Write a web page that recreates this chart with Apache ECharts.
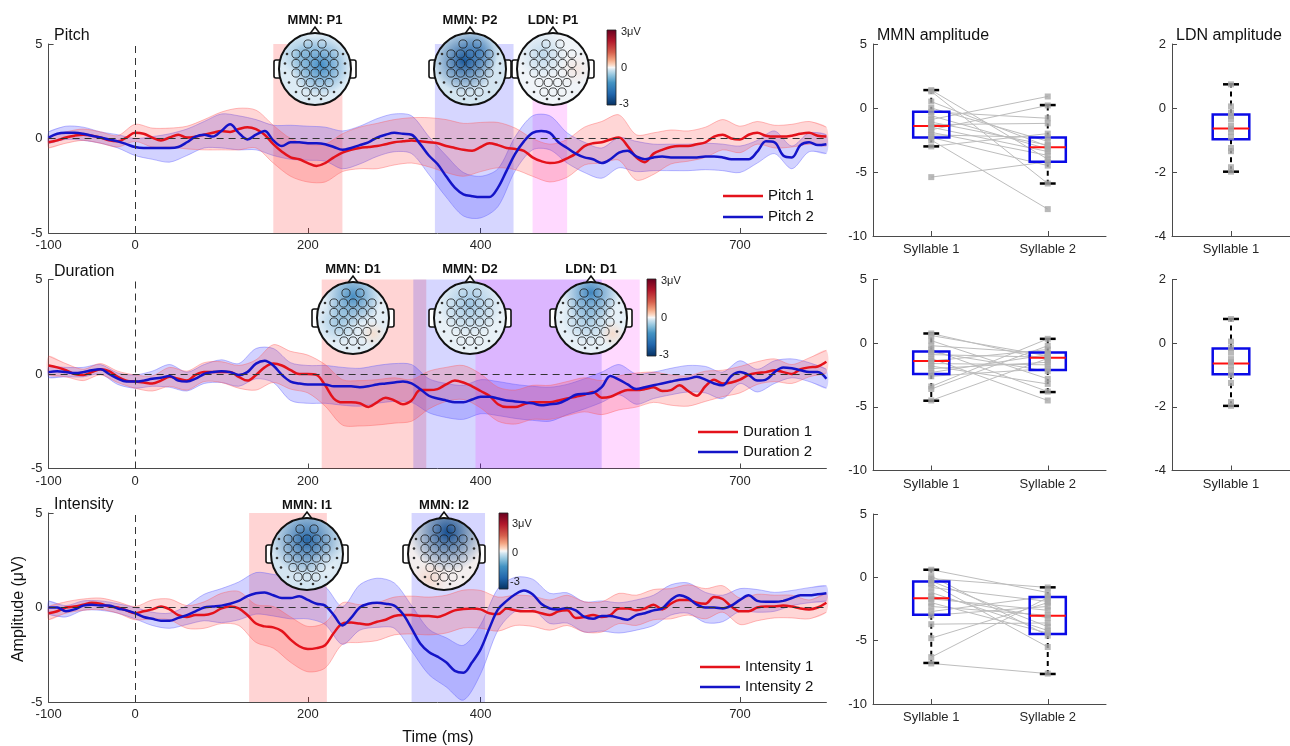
<!DOCTYPE html>
<html><head><meta charset="utf-8">
<script src="https://cdn.jsdelivr.net/npm/echarts@6/dist/echarts.min.js"></script>
<style>html,body{margin:0;padding:0;background:#fff}#c{width:1290px;height:746px}</style>
</head><body><div id="c"></div>
<script>
// ---------------- DATA ----------------
// ERP waveforms sampled every 10 ms from -100 to 800 ms
const T_START = -100, T_STEP = 10, BAND_STEP = 20, T_END = 800;
const xTickValues = [-100, 0, 200, 400, 700];

const pitch1 = [-0.2,-0.1,0.05,0.15,0.2,0.15,0.05,-0.1,-0.15,0.05,
0.3,0.25,0.05,-0.1,0.05,0.2,0.05,0.1,0.2,0.3,
0.4,0.35,0.5,0.6,0.5,0.2,-0.3,-0.7,-1.0,-1.1,
-1.3,-1.45,-1.3,-1.0,-0.75,-0.6,-0.5,-0.45,-0.4,-0.3,
-0.2,-0.15,-0.1,-0.15,-0.2,-0.25,-0.4,-0.5,-0.6,-0.65,
-0.45,-0.25,-0.35,-0.5,-0.55,-0.65,-1.0,-1.2,-1.3,-1.25,
-1.05,-0.8,-0.4,-0.25,-0.2,-0.05,0.05,-0.4,-1.0,-1.25,
-0.8,-0.6,-0.45,-0.4,-0.4,-0.3,-0.2,0.1,0.2,0.0,
-0.05,0.2,0.3,0.15,0.1,0.1,0.15,0.25,0.3,0.15,
0.1];
const pitch2 = [0.05,0.25,0.3,0.3,0.25,0.15,0.05,-0.05,-0.15,-0.3,
-0.45,-0.5,-0.5,-0.5,-0.5,-0.45,-0.2,0.1,0.2,0.1,
0.4,0.75,0.3,-0.05,0.2,0.4,-0.1,-0.4,-0.2,-0.2,
-0.25,-0.25,-0.3,-0.45,-0.6,-0.5,-0.35,-0.2,0.05,0.2,
0.3,0.25,0.2,-0.3,-0.9,-1.35,-2.0,-2.6,-2.95,-3.05,
-3.1,-3.1,-2.6,-1.7,-0.8,-0.15,0.3,0.4,0.3,-0.2,
-0.5,-0.8,-1.0,-1.1,-1.3,-1.1,-0.75,-0.65,-0.95,-1.1,
-1.0,-0.95,-1.0,-1.0,-1.0,-1.0,-0.95,-0.95,-1.0,-1.1,
-1.1,-1.1,-0.7,-0.15,-0.2,-0.9,-1.0,-0.35,-0.2,-0.35,
-0.3];
const duration1 = [0.45,0.35,0.2,0.0,-0.05,0.1,0.25,0.15,-0.15,-0.35,
-0.4,-0.45,-0.5,-0.35,-0.15,-0.25,-0.35,-0.05,0.1,0.1,
0.1,0.1,-0.15,-0.35,-0.05,0.35,0.55,0.45,0.2,0.0,
0.0,-0.05,-0.6,-1.3,-1.5,-1.5,-1.55,-1.75,-1.5,-1.25,
-1.4,-1.6,-1.4,-0.85,-0.85,-0.8,-0.55,-0.35,-0.45,-0.65,
-0.9,-1.15,-1.6,-1.75,-1.75,-1.6,-1.5,-1.5,-1.5,-1.4,
-1.3,-1.2,-1.1,-0.95,-1.25,-1.2,-1.0,-0.85,-0.85,-0.8,
-0.7,-0.9,-0.85,-0.6,-0.9,-1.15,-0.65,-0.3,-0.5,-0.45,
-0.3,-0.05,0.05,0.1,0.2,0.1,0.0,0.25,0.35,0.4,
0.65];
const duration2 = [0.1,0.15,0.1,0.05,0.1,0.2,0.25,0.0,-0.25,-0.4,
-0.4,-0.35,-0.25,-0.2,-0.1,-0.35,-0.4,-0.25,0.0,0.1,
0.15,0.1,-0.05,0.1,0.55,0.7,0.45,-0.05,-0.4,-0.5,
-0.55,-0.55,-0.55,-0.65,-0.65,-0.65,-0.7,-0.65,-0.55,-0.5,
-0.45,-0.4,-0.5,-0.8,-1.15,-1.3,-1.4,-1.5,-1.5,-1.35,
-1.2,-1.2,-1.3,-1.4,-1.45,-1.5,-1.55,-1.65,-1.6,-1.55,
-1.35,-1.1,-1.05,-1.0,-0.7,-0.1,-0.3,-0.55,-0.8,-0.7,
-0.6,-0.5,-0.4,-0.3,-0.25,-0.15,-0.3,-0.5,-0.6,-0.1,
0.1,-0.05,-0.35,-0.3,0.1,0.35,0.3,0.2,0.1,0.1,
-0.25];
const intensity1 = [-0.3,-0.2,0.0,0.05,0.15,0.25,0.2,0.05,0.0,-0.15,
-0.3,-0.2,-0.1,0.05,-0.1,-0.4,-0.5,-0.4,-0.4,-0.3,
-0.05,0.05,-0.05,-0.4,-0.85,-1.0,-1.05,-1.25,-1.7,-2.05,
-2.2,-2.15,-2.0,-1.35,-0.85,-0.8,-0.85,-0.9,-0.75,-0.65,
-0.45,-0.4,-0.4,-0.45,-0.45,-0.5,-0.35,-0.15,-0.08,-0.05,
-0.1,-0.3,-0.35,-0.05,-0.15,-0.2,-0.2,-0.3,-0.4,-0.2,
-0.15,-0.55,-0.5,-0.4,-0.5,-0.4,-0.05,-0.05,-0.15,-0.05,
0.15,-0.1,0.2,0.4,0.4,0.25,0.2,0.55,0.45,0.05,
-0.2,-0.2,0.0,0.05,0.05,0.1,0.05,-0.05,-0.1,0.0,
0.25];
const intensity2 = [0.0,0.0,-0.2,-0.1,0.1,0.15,0.1,0.1,-0.05,-0.15,
-0.3,-0.5,-0.6,-0.7,-0.7,-0.55,-0.4,-0.2,0.0,0.05,
0.1,0.2,0.35,0.6,0.75,0.8,0.65,0.5,0.5,0.6,
0.4,0.2,0.1,-0.4,-0.95,-0.55,0.0,0.2,0.25,0.2,
0.1,-0.35,-1.1,-1.9,-2.35,-2.6,-2.9,-3.35,-3.45,-2.9,
-2.2,-1.1,-0.1,0.35,0.7,0.9,0.7,0.2,-0.05,-0.1,
-0.02,-0.15,-0.5,-0.6,-0.45,-0.45,-0.55,-0.65,-0.4,-0.3,
-0.15,-0.05,0.4,0.65,0.5,0.15,0.0,0.0,-0.05,0.1,
0.4,0.65,0.35,0.3,0.3,0.35,0.5,0.65,0.65,0.7,
0.75];

// confidence band half-widths, every 20 ms from -100 to 800 ms
const pitch1Hw = [0.3,0.3,0.3,0.3,0.3,0.45,0.5,0.5,0.6,0.8,
1.0,1.1,1.0,1.0,1.0,1.0,1.0,1.0,1.1,1.2,
1.2,1.2,1.3,1.4,1.4,1.3,1.2,1.1,1.0,1.0,
1.0,1.0,1.1,1.2,1.2,1.1,0.9,0.8,0.8,0.8,
0.7,0.6,0.6,0.6,0.6,0.5];
const pitch2Hw = [0.3,0.35,0.35,0.3,0.35,0.45,0.6,0.75,0.7,0.7,
0.9,0.9,0.8,0.8,0.9,0.9,0.9,1.0,1.0,1.0,
1.0,1.0,1.0,1.1,1.15,1.1,1.0,0.9,0.9,0.9,
0.8,0.8,0.8,0.8,0.8,0.7,0.7,0.7,0.7,0.7,
0.7,0.6,0.6,0.6,0.5,0.5];
const duration1Hw = [0.5,0.35,0.3,0.3,0.3,0.35,0.4,0.5,0.5,0.5,
0.55,0.6,0.8,1.0,1.0,1.0,1.1,1.2,1.2,1.2,
1.2,1.1,1.0,0.9,0.9,0.9,0.9,0.9,0.9,0.9,
0.9,0.9,0.9,0.9,0.9,0.8,0.8,0.8,0.8,0.7,
0.7,0.6,0.6,0.5,0.5,0.6];
const duration2Hw = [0.3,0.25,0.25,0.25,0.3,0.35,0.4,0.6,0.5,0.5,
0.6,0.6,0.8,0.9,1.0,1.0,1.0,1.0,1.0,1.0,
1.0,1.0,0.9,0.9,0.9,0.9,0.9,0.9,0.9,0.9,
0.8,0.8,0.8,0.8,0.8,0.7,0.7,0.7,0.7,0.7,
0.6,0.6,0.6,0.5,0.5,0.5];
const intensity1Hw = [0.35,0.3,0.3,0.3,0.3,0.35,0.5,0.55,0.6,0.7,
0.8,0.9,1.0,1.1,1.2,1.2,1.2,1.1,1.0,1.0,
1.0,1.0,1.0,1.0,1.0,1.0,0.9,0.8,0.8,0.8,
0.8,0.8,0.8,0.8,0.8,0.8,0.8,0.8,0.8,0.7,
0.7,0.7,0.6,0.6,0.5,0.5];
const intensity2Hw = [0.35,0.3,0.25,0.25,0.25,0.3,0.35,0.4,0.5,0.7,
0.9,1.0,1.1,1.1,1.1,1.0,1.0,1.0,1.2,1.3,
1.2,1.2,1.2,1.3,1.45,1.3,1.1,0.9,0.8,0.8,
0.8,0.8,0.8,0.8,0.8,0.8,0.8,0.8,0.8,0.7,
0.6,0.6,0.5,0.4,0.4,0.4];

// analysis windows (ms)
const pitchMMN1 = [160, 240], pitchMMN2 = [347, 438], pitchLDN = [460, 500];
const durMMN1 = [216, 337], durMMN2 = [322, 540], durLDN = [394, 584];
const intMMN1 = [132, 222], intMMN2 = [320, 405];

// MMN amplitude per subject
const syllables = ['Syllable 1', 'Syllable 2'];
const mmnPitchS1 = [1.4,1.3,0.5,0.0,-0.3,-0.6,-0.9,-1.1,-1.3,-1.5,-1.7,-1.9,-2.1,-2.3,-2.5,-3.0,-5.4];
const mmnPitchS2 = [-4.0,-5.9,-3.0,-2.6,-0.8,-3.2,0.9,-2.9,-1.2,-3.4,0.2,-3.7,-2.3,-4.5,-7.9,-2.0,-4.2];
const mmnPitchBox = [[-3.0,-2.3,-1.4,-0.3,1.4],[-5.9,-4.2,-3.07,-2.3,0.23]];
const mmnDurS1 = [0.76,0.6,0.2,-0.2,-0.5,-0.7,-0.9,-1.2,-1.4,-1.6,-1.8,-2.0,-2.3,-2.6,-3.4,-3.6,-4.5];
const mmnDurS2 = [-1.3,-1.0,-2.8,-0.8,-3.8,-2.2,-1.1,-4.5,-0.5,-1.7,-3.2,-1.5,-0.9,-2.0,0.34,-0.2,-1.2];
const mmnDurBox = [[-4.52,-2.43,-1.41,-0.65,0.76],[-3.84,-2.1,-1.15,-0.73,0.34]];
const mmnIntS1 = [0.6,0.1,-0.1,-0.3,-0.5,-0.8,-1.2,-1.5,-1.7,-2.0,-2.3,-2.7,-3.0,-3.7,-4.8,-6.3,-6.8];
const mmnIntS2 = [-1.2,-4.6,-0.8,-3.9,-5.5,-1.9,-4.2,-3.2,-2.6,-4.4,-3.0,-1.5,-2.3,-3.6,-2.0,-1.6,-7.6];
const mmnIntBox = [[-6.76,-2.95,-1.66,-0.32,0.6],[-7.63,-4.47,-3.03,-1.55,-0.79]];
// LDN amplitude per subject
const ldnPitch = [0.74,0.05,-0.15,-0.25,-0.35,-0.55,-0.65,-0.75,-0.9,-1.25,-1.35,-1.85,-1.99];
const ldnPitchBox = [[-1.99,-0.98,-0.64,-0.2,0.74]];
const ldnDur = [0.76,0.05,-0.15,-0.3,-0.5,-0.6,-0.7,-0.85,-1.0,-1.25,-1.85,-1.97];
const ldnDurBox = [[-1.97,-0.98,-0.64,-0.17,0.76]];

// ---------------- STYLE / LAYOUT ----------------
const FONT = "'Liberation Sans', Arial, Helvetica, sans-serif";
const AX = '#4a4a4a', TXT = '#262626';
const RED = '#e4121b', BLUE = '#1414c8';
const REG = { mmn1: 'rgba(255,0,0,0.17)', mmn2: 'rgba(0,0,255,0.16)', ldn: 'rgba(255,0,255,0.15)' };

const times = [], bandTimes = [];
for (let t = T_START; t <= T_END; t += T_STEP) times.push(t);
for (let t = T_START; t <= T_END; t += BAND_STEP) bandTimes.push(t);

const leftPanels = [
  { title: 'Pitch', n1: 'Pitch 1', n2: 'Pitch 2', l1: pitch1, l2: pitch2, h1: pitch1Hw, h2: pitch2Hw,
    regions: [[pitchMMN1, 'mmn1'], [pitchMMN2, 'mmn2'], [pitchLDN, 'ldn']], top: 44, lg: { left: 718, top: 182, gap: 3 } },
  { title: 'Duration', n1: 'Duration 1', n2: 'Duration 2', l1: duration1, l2: duration2, h1: duration1Hw, h2: duration2Hw,
    regions: [[durMMN1, 'mmn1'], [durMMN2, 'mmn2'], [durLDN, 'ldn']], top: 279.5, lg: { left: 693, top: 418, gap: 2 } },
  { title: 'Intensity', n1: 'Intensity 1', n2: 'Intensity 2', l1: intensity1, l2: intensity2, h1: intensity1Hw, h2: intensity2Hw,
    regions: [[intMMN1, 'mmn1'], [intMMN2, 'mmn2']], top: 513, lg: { left: 695, top: 653, gap: 2 } }
];
const mmnPanels = [
  { s1: mmnPitchS1, s2: mmnPitchS2, box: mmnPitchBox, top: 44, h: 192 },
  { s1: mmnDurS1, s2: mmnDurS2, box: mmnDurBox, top: 279.5, h: 191 },
  { s1: mmnIntS1, s2: mmnIntS2, box: mmnIntBox, top: 514, h: 190 }
];
const ldnPanels = [
  { pts: ldnPitch, box: ldnPitchBox, top: 44, h: 192 },
  { pts: ldnDur, box: ldnDurBox, top: 279.5, h: 191 }
];

const grid = [], xAxis = [], yAxis = [], series = [], legend = [], title = [];
const axLine = { show: true, onZero: false, lineStyle: { color: AX, width: 1 } };
const lab = { color: TXT, fontSize: 13, fontFamily: FONT };

leftPanels.forEach((p, i) => {
  grid.push({ left: 48.6, top: p.top, width: 777.8, height: 189 });
  xAxis.push({ gridIndex: i, type: 'value', min: -100, max: 800,
    axisLine: axLine, splitLine: { show: false },
    axisTick: { show: true, inside: true, length: 5, customValues: xTickValues, lineStyle: { color: AX } },
    axisLabel: Object.assign({ customValues: xTickValues, margin: 6 }, lab) });
  yAxis.push({ gridIndex: i, type: 'value', min: -5, max: 5, interval: 5,
    axisLine: axLine, splitLine: { show: false },
    axisTick: { show: true, inside: true, length: 5, lineStyle: { color: AX } },
    axisLabel: Object.assign({ margin: 6 }, lab) });
  title.push({ text: p.title, left: 49, top: p.top - 21, textStyle: { fontSize: 16, fontWeight: 'normal', color: '#111', fontFamily: FONT } });

  // analysis windows
  series.push({ type: 'custom', xAxisIndex: i, yAxisIndex: i, z: 1, silent: true,
    data: p.regions.map(r => ({ value: r[0], itemStyle: { color: REG[r[1]] } })),
    renderItem: (params, api) => {
      const a = api.coord([api.value(0), 5]), b = api.coord([api.value(1), -5]);
      return { type: 'rect', shape: { x: a[0], y: a[1], width: b[0] - a[0], height: b[1] - a[1] },
        style: { fill: api.visual('color') } };
    } });

  const band = (line, hw, fill, stroke) => ({ type: 'custom', xAxisIndex: i, yAxisIndex: i, z: 2, silent: true,
    data: [[0, 0]],
    renderItem: (params, api) => {
      const up = [], lo = [];
      bandTimes.forEach((t, k) => {
        const m = line[(t - T_START) / T_STEP];
        up.push(api.coord([t, m + hw[k]]));
        lo.push(api.coord([t, m - hw[k]]));
      });
      return { type: 'group', children: [
        { type: 'polygon', shape: { points: up.concat(lo.slice().reverse()), smooth: 0.3 }, style: { fill: fill } },
        { type: 'polyline', shape: { points: up, smooth: 0.3 }, style: { fill: 'none', stroke: stroke, lineWidth: 0.8 } },
        { type: 'polyline', shape: { points: lo, smooth: 0.3 }, style: { fill: 'none', stroke: stroke, lineWidth: 0.8 } }
      ] };
    } });
  series.push(band(p.l2, p.h2, 'rgba(50,50,255,0.22)', 'rgba(90,90,255,0.5)'));
  series.push(band(p.l1, p.h1, 'rgba(255,50,50,0.2)', 'rgba(255,90,90,0.5)'));

  series.push({ type: 'line', name: p.n1, xAxisIndex: i, yAxisIndex: i, z: 3, color: RED,
    showSymbol: false, smooth: 0.35, lineStyle: { width: 2.5, color: RED },
    data: times.map((t, k) => [t, p.l1[k]]),
    markLine: { silent: true, symbol: ['none', 'none'], label: { show: false }, animation: false,
      lineStyle: { type: [7, 5], color: '#333', width: 1 },
      data: [{ yAxis: 0 }, { xAxis: 0 }] } });
  series.push({ type: 'line', name: p.n2, xAxisIndex: i, yAxisIndex: i, z: 3, color: BLUE,
    showSymbol: false, smooth: 0.35, lineStyle: { width: 2.5, color: BLUE },
    data: times.map((t, k) => [t, p.l2[k]]) });

  legend.push({ data: [p.n1, p.n2], orient: 'vertical', left: p.lg.left, top: p.lg.top, itemGap: p.lg.gap,
    icon: 'rect', itemWidth: 40, itemHeight: 2.5, selectedMode: false,
    textStyle: { fontSize: 15, color: '#111', fontFamily: FONT, lineHeight: 18 } });
});

// box + whiskers renderer
function boxRender(params, api) {
  const ci = api.value(0);
  const bw = api.size([1, 0])[0];
  const x = api.coord([ci, 0])[0];
  const y = k => api.coord([ci, api.value(k)])[1];
  const yMin = y(1), yQ1 = y(2), yMed = y(3), yQ3 = y(4), yMax = y(5);
  const hb = bw * 0.155, hc = bw * 0.068;
  return { type: 'group', children: [
    { type: 'line', shape: { x1: x, y1: yQ3, x2: x, y2: yMax }, style: { stroke: '#000', lineWidth: 2, lineDash: [5, 4] } },
    { type: 'line', shape: { x1: x, y1: yQ1, x2: x, y2: yMin }, style: { stroke: '#000', lineWidth: 2, lineDash: [5, 4] } },
    { type: 'line', shape: { x1: x - hc, y1: yMax, x2: x + hc, y2: yMax }, style: { stroke: '#000', lineWidth: 2.5 } },
    { type: 'line', shape: { x1: x - hc, y1: yMin, x2: x + hc, y2: yMin }, style: { stroke: '#000', lineWidth: 2.5 } },
    { type: 'rect', shape: { x: x - hb, y: yQ3, width: 2 * hb, height: yQ1 - yQ3 }, style: { fill: 'none', stroke: '#0a0ae6', lineWidth: 2.5 } },
    { type: 'line', shape: { x1: x - hb, y1: yMed, x2: x + hb, y2: yMed }, style: { stroke: '#ff1010', lineWidth: 2 } }
  ] };
}

const catX = (gi, cats) => ({ gridIndex: gi, type: 'category', data: cats, boundaryGap: true,
  axisLine: axLine, splitLine: { show: false },
  axisTick: { show: true, inside: true, length: 5, alignWithLabel: true, lineStyle: { color: AX } },
  axisLabel: Object.assign({ margin: 7 }, lab) });
const valY = (gi, mn, mx, iv) => ({ gridIndex: gi, type: 'value', min: mn, max: mx, interval: iv,
  axisLine: axLine, splitLine: { show: false },
  axisTick: { show: true, inside: true, length: 5, lineStyle: { color: AX } },
  axisLabel: Object.assign({ margin: 6 }, lab) });

mmnPanels.forEach((p, j) => {
  const gi = 3 + j;
  grid.push({ left: 873, top: p.top, width: 233, height: p.h });
  xAxis.push(catX(gi, syllables));
  yAxis.push(valY(gi, -10, 5, 5));
  series.push({ type: 'custom', xAxisIndex: gi, yAxisIndex: gi, z: 2, silent: true,
    data: p.s1.map((v, k) => [0, v, p.s2[k]]),
    renderItem: (params, api) => {
      const a = api.coord([0, api.value(1)]), b = api.coord([1, api.value(2)]);
      return { type: 'line', shape: { x1: a[0], y1: a[1], x2: b[0], y2: b[1] }, style: { stroke: '#bdbdbd', lineWidth: 1 } };
    } });
  series.push({ type: 'custom', xAxisIndex: gi, yAxisIndex: gi, z: 3, silent: true,
    data: p.box.map((b, ci) => [ci].concat(b)), renderItem: boxRender });
  series.push({ type: 'scatter', xAxisIndex: gi, yAxisIndex: gi, z: 4, silent: true,
    symbol: 'rect', symbolSize: 6, itemStyle: { color: '#a8a8a8' },
    data: p.s1.map(v => [0, v]).concat(p.s2.map(v => [1, v])) });
});
title.push({ text: 'MMN amplitude', left: 872, top: 23, textStyle: { fontSize: 16, fontWeight: 'normal', color: '#111', fontFamily: FONT } });

ldnPanels.forEach((p, j) => {
  const gi = 6 + j;
  grid.push({ left: 1172, top: p.top, width: 126, height: p.h });
  xAxis.push(catX(gi, ['Syllable 1']));
  yAxis.push(valY(gi, -4, 2, 2));
  series.push({ type: 'custom', xAxisIndex: gi, yAxisIndex: gi, z: 3, silent: true,
    data: p.box.map((b, ci) => [ci].concat(b)), renderItem: boxRender });
  series.push({ type: 'scatter', xAxisIndex: gi, yAxisIndex: gi, z: 4, silent: true,
    symbol: 'rect', symbolSize: 6, itemStyle: { color: '#a8a8a8' },
    data: p.pts.map(v => [0, v]) });
});
title.push({ text: 'LDN amplitude', left: 1171, top: 23, textStyle: { fontSize: 16, fontWeight: 'normal', color: '#111', fontFamily: FONT } });

// ---------------- TOPOGRAPHIC MAPS (decorative graphics) ----------------
const ELEC_BIG = [[-7,-25],[7,-25],[-19,-15],[-9.5,-15],[0,-15],[9.5,-15],[19,-15],[-19,-5.5],[-9.5,-5.5],[0,-5.5],[9.5,-5.5],[19,-5.5],
  [-19,4],[-9.5,4],[0,4],[9.5,4],[19,4],[-14,13.5],[-4.7,13.5],[4.7,13.5],[14,13.5],[-9,23],[0,23],[9,23]];
const ELEC_DOT = [[-28,-15],[28,-15],[-30,-5.5],[30,-5.5],[-30,4],[30,4],[-26,13.5],[26,13.5],[-19,23],[19,23],[-6,30],[6,30]];
const TOPO_Z = 100;
function head(cx, cy, base, blobs) {
  const r = 36, ch = [];
  const edge = { fill: '#fff', stroke: '#111', lineWidth: 1.6 };
  ch.push({ type: 'rect', shape: { x: -r - 5, y: -9, width: 8, height: 18, r: 2 }, style: edge });
  ch.push({ type: 'rect', shape: { x: r - 3, y: -9, width: 8, height: 18, r: 2 }, style: edge });
  ch.push({ type: 'polygon', shape: { points: [[-6, -r + 2], [0, -r - 6], [6, -r + 2]] }, style: edge });
  ch.push({ type: 'circle', shape: { cx: 0, cy: 0, r: r }, style: { fill: base } });
  blobs.forEach(b => ch.push({ type: 'circle', shape: { cx: 0, cy: 0, r: r }, style: {
    fill: new echarts.graphic.RadialGradient(b[0], b[1], b[2], [
      { offset: 0, color: 'rgba(' + b[3] + ',' + b[4] + ',' + b[5] + ',' + b[6] + ')' },
      { offset: 1, color: 'rgba(' + b[3] + ',' + b[4] + ',' + b[5] + ',0)' }]) } }));
  ELEC_BIG.forEach(e => ch.push({ type: 'circle', shape: { cx: e[0], cy: e[1], r: 4.1 }, style: { fill: 'none', stroke: '#1a1a1a', lineWidth: 0.8 } }));
  ELEC_DOT.forEach(e => ch.push({ type: 'circle', shape: { cx: e[0], cy: e[1], r: 1.3 }, style: { fill: '#333' } }));
  ch.push({ type: 'circle', shape: { cx: 0, cy: 0, r: r }, style: { fill: 'none', stroke: '#111', lineWidth: 2 } });
  ch.forEach((c, k) => { c.z = TOPO_Z; c.z2 = k; c.silent = true; });
  return { type: 'group', x: cx, y: cy, z: TOPO_Z, silent: true, children: ch };
}
const heads = [
  { x: 315, y: 69, t: 'MMN: P1', base: '#dcebf5', blobs: [[0.58,0.45,0.42,40,125,190,0.85],[0.3,0.3,0.3,90,160,205,0.5]] },
  { x: 470, y: 69, t: 'MMN: P2', base: '#d3e5f1', blobs: [[0.42,0.38,0.45,15,80,150,0.95],[0.62,0.25,0.3,40,110,180,0.6]] },
  { x: 553, y: 69, t: 'LDN: P1', base: '#f0f4f8', blobs: [[0.35,0.3,0.35,160,200,228,0.6],[0.82,0.5,0.22,245,220,210,0.6]] },
  { x: 353, y: 318, t: 'MMN: D1', base: '#e3eef6', blobs: [[0.5,0.2,0.4,45,125,185,0.85],[0.3,0.55,0.3,90,160,205,0.5],[0.78,0.72,0.18,248,220,200,0.8]] },
  { x: 470, y: 318, t: 'MMN: D2', base: '#e8f1f7', blobs: [[0.5,0.3,0.45,110,170,215,0.6]] },
  { x: 591, y: 318, t: 'LDN: D1', base: '#e6f0f7', blobs: [[0.5,0.15,0.4,35,115,180,0.85],[0.45,0.5,0.35,100,165,210,0.5],[0.8,0.72,0.18,248,215,195,0.8]] },
  { x: 307, y: 554, t: 'MMN: I1', base: '#d3e5f1', blobs: [[0.5,0.3,0.5,20,90,160,0.9],[0.8,0.7,0.3,235,242,248,0.6]] },
  { x: 444, y: 554, t: 'MMN: I2', base: '#f3eeee', blobs: [[0.55,0.2,0.55,10,70,140,0.95],[0.3,0.85,0.25,245,210,195,0.7]] }
];
const graphics = [];
heads.forEach(h => {
  graphics.push(head(h.x, h.y, h.base, h.blobs));
  graphics.push({ type: 'text', x: h.x, y: h.y - 49, z: TOPO_Z + 1, silent: true,
    style: { text: h.t, fontSize: 13, fontWeight: 'bold', fill: '#111', fontFamily: FONT, align: 'center', verticalAlign: 'middle' } });
});
const cbGrad = () => new echarts.graphic.LinearGradient(0, 0, 0, 1, [
  { offset: 0, color: '#67001f' }, { offset: 0.15, color: '#b2182b' }, { offset: 0.3, color: '#d6604d' },
  { offset: 0.4, color: '#f4a582' }, { offset: 0.47, color: '#fddbc7' }, { offset: 0.5, color: '#f7f7f7' },
  { offset: 0.53, color: '#d1e5f0' }, { offset: 0.6, color: '#92c5de' }, { offset: 0.7, color: '#4393c3' },
  { offset: 0.85, color: '#2166ac' }, { offset: 1, color: '#053061' }]);
const cbars = [
  { x: 607, y: 30, h: 75, l: [[621, 32, '3μV'], [621, 68, '0'], [619, 104, '-3']] },
  { x: 647, y: 279, h: 77, l: [[661, 281, '3μV'], [661, 318, '0'], [659, 355, '-3']] },
  { x: 499, y: 513, h: 76, l: [[512, 524, '3μV'], [512, 553, '0'], [510, 582, '-3']] }
];
cbars.forEach(c => {
  graphics.push({ type: 'rect', z: TOPO_Z, silent: true, shape: { x: c.x, y: c.y, width: 9, height: c.h },
    style: { fill: cbGrad(), stroke: '#222', lineWidth: 0.8 } });
  c.l.forEach(l => graphics.push({ type: 'text', x: l[0], y: l[1], z: TOPO_Z + 1, silent: true,
    style: { text: l[2], fontSize: 11, fill: '#222', fontFamily: FONT, align: 'left', verticalAlign: 'middle' } }));
});
graphics.push({ type: 'text', x: 19, y: 609, rotation: Math.PI / 2, z: TOPO_Z + 1, silent: true,
  style: { text: 'Amplitude (μV)', fontSize: 16, fill: '#111', fontFamily: FONT, align: 'center', verticalAlign: 'middle' } });
graphics.push({ type: 'text', x: 438, y: 738, z: TOPO_Z + 1, silent: true,
  style: { text: 'Time (ms)', fontSize: 16, fill: '#111', fontFamily: FONT, align: 'center', verticalAlign: 'middle' } });

const chart = echarts.init(document.getElementById('c'), null, { renderer: 'canvas' });
chart.setOption({
  animation: false, backgroundColor: '#fff',
  title, legend, grid, xAxis, yAxis, series,
  graphic: { elements: graphics }
});
</script></body></html>
